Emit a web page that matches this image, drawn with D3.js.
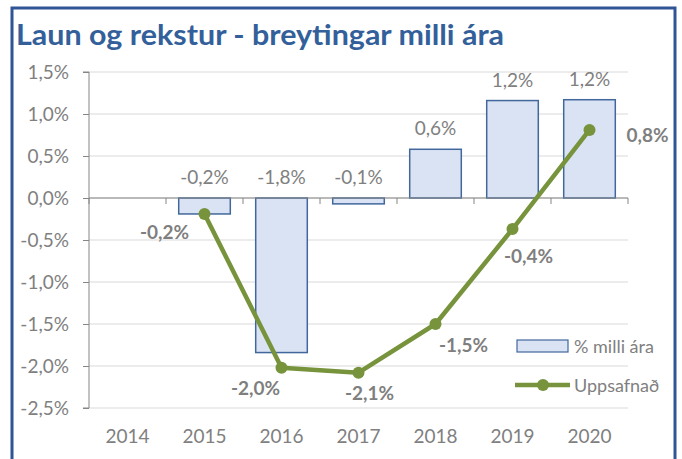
<!DOCTYPE html>
<html>
<head>
<meta charset="utf-8">
<script src="https://cdn.jsdelivr.net/npm/d3@7"></script>
<style>
body { margin: 0; background: #fff; }
text { font-family: Lato, "Open Sans", sans-serif; }
</style>
</head>
<body>
<svg></svg>
<script>
var years = ["2014", "2015", "2016", "2017", "2018", "2019", "2020"];
var yearChange = [null, -0.19, -1.84, -0.07, 0.58, 1.16, 1.17];
var yearChangeLabels = ["", "-0,2%", "-1,8%", "-0,1%", "0,6%", "1,2%", "1,2%"];
var cumulative = [null, -0.19, -2.02, -2.08, -1.5, -0.37, 0.81];
var cumulativeLabels = ["", "-0,2%", "-2,0%", "-2,1%", "-1,5%", "-0,4%", "0,8%"];
var yTicks = [1.5, 1.0, 0.5, 0.0, -0.5, -1.0, -1.5, -2.0, -2.5];

// where each cumulative label sits relative to its point
var lineLabelOffset = [null, [-40, 25], [-26, 27], [11, 27], [28, 28], [16, 34], [58, 12]];

var screen = {width: 682, height: 459};
var plot = {left: 89, right: 628, top: 72, bottom: 408};

var svg = d3.select("svg")
    .attr("width", screen.width)
    .attr("height", screen.height);

svg.append("rect")
    .attr("x", 12)
    .attr("y", 8)
    .attr("width", 663)
    .attr("height", 470)
    .attr("fill", "none")
    .attr("stroke", "#2f5597")
    .attr("stroke-width", 3);

svg.append("text")
    .attr("x", 16)
    .attr("y", 45)
    .attr("fill", "#33609a")
    .attr("font-size", 28)
    .attr("font-weight", 700)
    .attr("textLength", 488)
    .attr("lengthAdjust", "spacingAndGlyphs")
    .text("Laun og rekstur - breytingar milli ára");

var xScale = d3.scaleBand()
    .domain(years)
    .range([plot.left, plot.right])
    .paddingInner(0.33)
    .paddingOuter(0.165);

var yScale = d3.scaleLinear()
    .domain([-2.5, 1.5])
    .range([plot.bottom, plot.top]);

var fmt = function(v) { return d3.format(".1f")(v).replace(".", ",").replace("−", "-") + "%"; };

// gridlines
svg.append("g")
    .selectAll("line")
    .data(yTicks)
    .enter()
    .append("line")
    .attr("x1", plot.left)
    .attr("x2", plot.right)
    .attr("y1", function(d) { return yScale(d); })
    .attr("y2", function(d) { return yScale(d); })
    .attr("stroke", "#d9d9d9")
    .attr("stroke-width", 1);

// y axis
var yAxis = d3.axisLeft(yScale)
    .tickValues(yTicks)
    .tickSize(6)
    .tickPadding(14)
    .tickFormat(fmt);

var yG = svg.append("g")
    .attr("transform", "translate(" + plot.left + ",0)")
    .call(yAxis);
yG.select(".domain").attr("stroke", "#868686").attr("d", "M-6," + plot.top + "H0V" + plot.bottom + "H-6");
yG.selectAll(".tick line").attr("stroke", "#868686");
yG.selectAll(".tick text")
    .attr("fill", "#808080")
    .attr("font-size", 19)
    .attr("font-family", "Lato, sans-serif");

// bars
svg.append("g")
    .selectAll("rect")
    .data(years.filter(function(d, i) { return yearChange[i] !== null; }))
    .enter()
    .append("rect")
    .attr("x", function(d) { return xScale(d); })
    .attr("width", xScale.bandwidth())
    .attr("y", function(d) { var v = yearChange[years.indexOf(d)]; return yScale(Math.max(v, 0)); })
    .attr("height", function(d) { var v = yearChange[years.indexOf(d)]; return Math.abs(yScale(v) - yScale(0)); })
    .attr("fill", "#dae3f3")
    .attr("stroke", "#41679c")
    .attr("stroke-width", 1.5);

// zero axis with category ticks
var step = xScale.step();
var zeroY = yScale(0);
svg.append("line")
    .attr("x1", plot.left)
    .attr("x2", plot.right)
    .attr("y1", zeroY)
    .attr("y2", zeroY)
    .attr("stroke", "#868686")
    .attr("stroke-width", 1.2);
svg.append("g")
    .selectAll("line")
    .data(d3.range(years.length + 1))
    .enter()
    .append("line")
    .attr("x1", function(i) { return plot.left + i * step; })
    .attr("x2", function(i) { return plot.left + i * step; })
    .attr("y1", zeroY)
    .attr("y2", zeroY + 6)
    .attr("stroke", "#868686");

// x labels
var xAxis = d3.axisBottom(xScale).tickSize(0).tickPadding(22);
var xG = svg.append("g")
    .attr("transform", "translate(0," + plot.bottom + ")")
    .call(xAxis);
xG.select(".domain").remove();
xG.selectAll(".tick text")
    .attr("fill", "#808080")
    .attr("font-size", 19)
    .attr("font-family", "Lato, sans-serif");

// bar labels
svg.append("g")
    .selectAll("text")
    .data(years.filter(function(d, i) { return yearChange[i] !== null; }))
    .enter()
    .append("text")
    .attr("x", function(d) { return xScale(d) + xScale.bandwidth() / 2; })
    .attr("y", function(d) { var v = yearChange[years.indexOf(d)]; return yScale(Math.max(v, 0)) - 14; })
    .attr("text-anchor", "middle")
    .attr("fill", "#808080")
    .attr("font-size", 19)
    .text(function(d) { return yearChangeLabels[years.indexOf(d)]; });

// cumulative line
var linePts = years.map(function(d, i) { return {year: d, v: cumulative[i], i: i}; })
    .filter(function(p) { return p.v !== null; });

var lineGenerator = d3.line()
    .x(function(p) { return xScale(p.year) + xScale.bandwidth() / 2; })
    .y(function(p) { return yScale(p.v); });

svg.append("path")
    .datum(linePts)
    .attr("d", lineGenerator)
    .attr("fill", "none")
    .attr("stroke", "#77933c")
    .attr("stroke-width", 4.5)
    .attr("stroke-linejoin", "round");

svg.append("g")
    .selectAll("circle")
    .data(linePts)
    .enter()
    .append("circle")
    .attr("cx", function(p) { return xScale(p.year) + xScale.bandwidth() / 2; })
    .attr("cy", function(p) { return yScale(p.v); })
    .attr("r", 6)
    .attr("fill", "#77933c");

svg.append("g")
    .selectAll("text")
    .data(linePts)
    .enter()
    .append("text")
    .attr("x", function(p) { return xScale(p.year) + xScale.bandwidth() / 2 + lineLabelOffset[p.i][0]; })
    .attr("y", function(p) { return yScale(p.v) + lineLabelOffset[p.i][1]; })
    .attr("text-anchor", "middle")
    .attr("fill", "#7f7f7f")
    .attr("font-size", 19)
    .attr("font-weight", 700)
    .text(function(p) { return cumulativeLabels[p.i]; });

// legend
var legend = svg.append("g");
legend.append("rect")
    .attr("x", 517).attr("y", 340)
    .attr("width", 51).attr("height", 12)
    .attr("fill", "#dae3f3")
    .attr("stroke", "#41679c")
    .attr("stroke-width", 1.2);
legend.append("text")
    .attr("x", 574).attr("y", 353)
    .attr("fill", "#808080")
    .attr("font-size", 18)
    .text("% milli ára");
legend.append("line")
    .attr("x1", 515).attr("x2", 570)
    .attr("y1", 385).attr("y2", 385)
    .attr("stroke", "#77933c")
    .attr("stroke-width", 4.5);
legend.append("circle")
    .attr("cx", 543).attr("cy", 385).attr("r", 6)
    .attr("fill", "#77933c");
legend.append("text")
    .attr("x", 574).attr("y", 392)
    .attr("fill", "#808080")
    .attr("font-size", 18)
    .text("Uppsafnað");
</script>
</body>
</html>
